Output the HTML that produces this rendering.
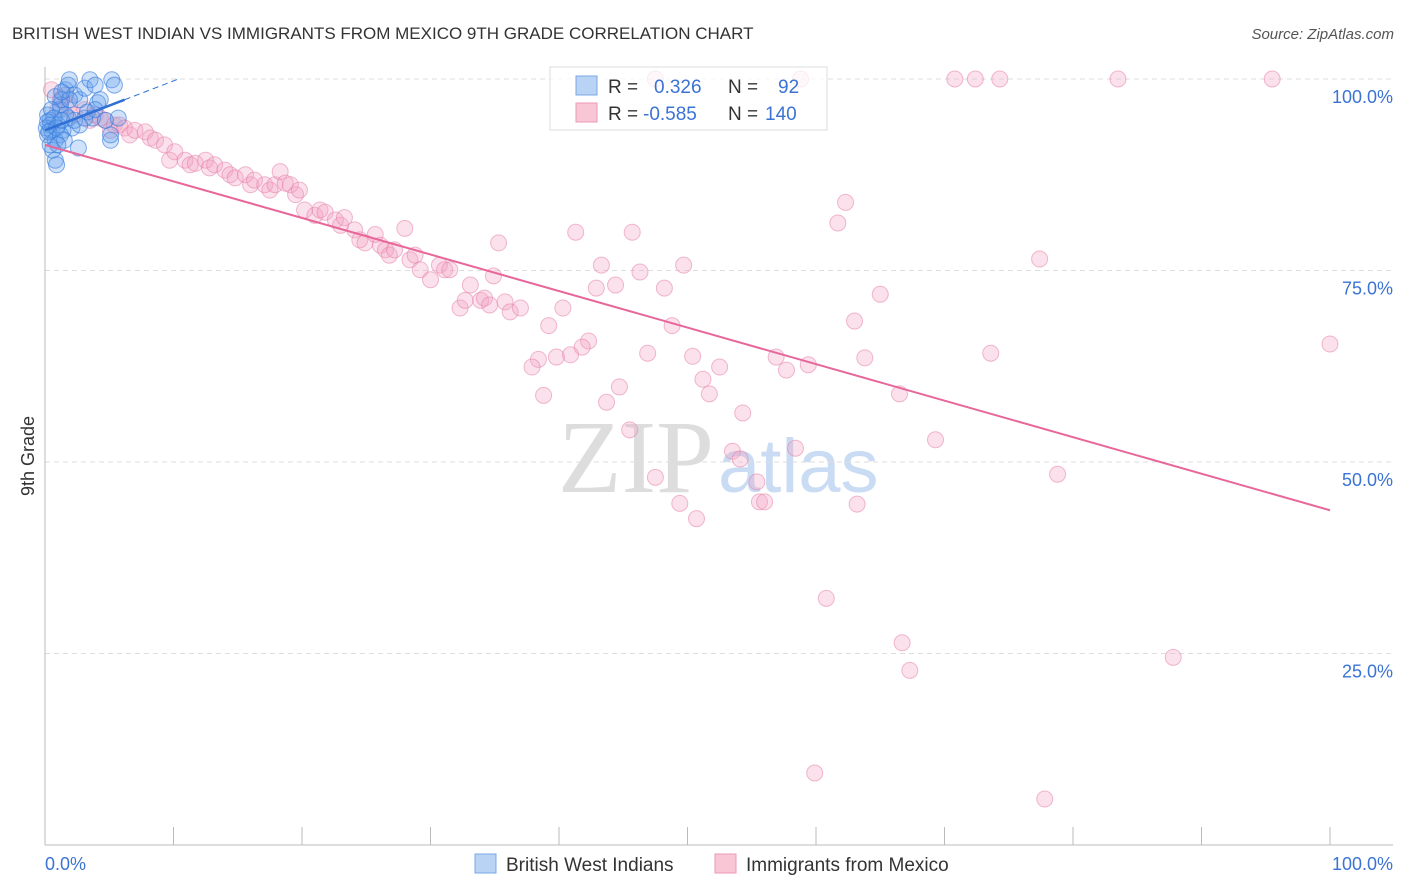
<!DOCTYPE html>
<html><head><meta charset="utf-8"><style>
body{margin:0;background:#fff;font-family:"Liberation Sans",sans-serif;}
svg{display:block}
</style></head><body>
<svg id="chart" width="1406" height="892">
<text x="12" y="39" font-size="17" fill="#333">BRITISH WEST INDIAN VS IMMIGRANTS FROM MEXICO 9TH GRADE CORRELATION CHART</text>
<text x="1394" y="39" font-size="15" fill="#555" font-style="italic" text-anchor="end">Source: ZipAtlas.com</text>
<text x="714" y="492" font-size="104" fill="#ddd" text-anchor="end" font-family="Liberation Serif,serif">ZIP</text>
<text x="718" y="492" font-size="76" fill="#c9dcf3">atlas</text>
<text x="34" y="456" font-size="18" fill="#333" text-anchor="middle" transform="rotate(-90 34 456)">9th Grade</text>
<g id="grid"></g><g id="pts"></g><g id="lines"></g>
<g>
<rect x="550" y="67" width="277" height="63" fill="rgba(255,255,255,0.75)" stroke="#ddd"/>
<rect x="576" y="76" width="21" height="19" fill="#b9d3f5" stroke="#7aa7e6"/>
<rect x="576" y="103" width="21" height="19" fill="#f9c6d6" stroke="#ec9ab5"/>
<text x="608" y="93" font-size="19" fill="#333">R = <tspan x="654" fill="#3b73d4">0.326</tspan><tspan x="728" fill="#333">N =</tspan><tspan x="778" fill="#3b73d4">92</tspan></text>
<text x="608" y="120" font-size="19" fill="#333">R = <tspan x="643" fill="#3b73d4">-0.585</tspan><tspan x="728" fill="#333">N =</tspan><tspan x="765" fill="#3b73d4">140</tspan></text>
</g>
<g>
<rect x="475" y="854" width="21" height="19" fill="#b9d3f5" stroke="#7aa7e6"/>
<text x="506" y="871" font-size="19" fill="#333">British West Indians</text>
<rect x="715" y="854" width="21" height="19" fill="#f9c6d6" stroke="#ec9ab5"/>
<text x="746" y="871" font-size="19" fill="#333">Immigrants from Mexico</text>
</g>
<text x="45" y="870" font-size="18" fill="#3b73d4">0.0%</text>
<text x="1393" y="870" font-size="18" fill="#3b73d4" text-anchor="end">100.0%</text>
</svg>
<script>
const yTicks=[100,75,50,25];
const yTickLabels=["100.0%","75.0%","50.0%","25.0%"];
const pinkX=[47.5,58.8,70.8,72.4,74.3,83.5,95.5,62.3,61.7,41.3,45.7,35.3,77.4,43.3,49.7,46.3,34.9,65.0,42.9,44.4,48.2,63.0,39.2,48.8,40.3,42.3,41.8,100,46.9,50.4,39.8,38.4,40.9,37.9,56.9,57.7,59.4,63.8,73.6,51.2,44.7,52.5,51.7,66.5,38.8,43.7,54.3,45.5,69.3,58.4,53.5,54.1,47.5,78.8,55.4,49.4,55.6,56.0,63.2,50.7,60.8,66.7,67.3,87.8,59.9,77.8,
0.5,1.2,1.0,1.6,1.9,2.3,3.1,3.5,3.9,4.3,4.7,5.1,5.4,5.8,6.2,6.6,7.0,7.8,8.2,8.6,9.3,9.7,10.1,10.9,11.3,11.7,12.5,12.8,13.2,14.0,14.4,14.8,15.6,16.0,16.3,17.1,17.5,17.9,18.3,18.7,19.1,19.5,19.8,20.2,21.0,21.4,21.8,22.6,23.0,23.3,24.1,24.5,24.9,25.7,26.1,26.5,26.8,27.2,28.0,28.4,28.8,29.2,30.0,30.7,31.1,31.5,32.3,32.7,33.1,33.9,34.2,34.6,35.8,36.2,37.0];
const pinkY=[100,100,100,100,100,100,100,83.9,81.2,80.0,80.0,78.6,76.5,75.7,75.7,74.8,74.3,71.9,72.7,73.1,72.7,68.4,67.8,67.8,70.1,65.8,65.0,65.4,64.2,63.8,63.7,63.4,64.0,62.4,63.7,62.0,62.7,63.6,64.2,60.8,59.8,62.4,58.9,58.9,58.7,57.8,56.4,54.2,52.9,51.8,51.4,50.4,48.0,48.4,47.4,44.6,44.8,44.8,44.5,42.6,32.2,26.4,22.8,24.5,9.4,6.0,
98.6,97.3,96.0,97.9,96.6,95.3,96.0,94.6,95.3,94.9,94.6,93.3,94.0,94.0,93.6,92.7,93.3,93.1,92.3,92.0,91.4,89.4,90.5,89.4,88.8,89.0,89.4,88.4,88.8,88.1,87.5,87.1,87.5,86.2,86.8,86.2,85.5,86.2,87.9,86.4,86.2,84.9,85.5,82.9,82.2,82.9,82.6,81.6,80.9,81.9,80.3,79.0,78.6,79.7,78.3,77.7,77.0,77.7,80.5,76.4,77.0,75.1,73.8,75.7,75.1,75.1,70.1,71.1,73.1,71.1,71.4,70.5,70.9,69.6,70.1];
const blueX=[0.4,0.5,0.8,0.6,0.8,0.9,0.2,0.4,1.2,1.3,1.6,1.8,1.9,2.3,2.7,3.1,3.5,3.9,4.1,4.3,5.2,5.4,5.1,5.1,2.6,2.1,1.8,1.2,0.8,1.0,1.4,1.6,2.3,2.7,3.1,3.3,3.7,1.9,0.2,0.4,0.5,0.7,0.1,0.2,0.3,0.9,1.2,1.3,1.5,1.0,3.9,4.7,5.7,1.3];
const blueY=[94.6,93.3,92.0,90.7,89.4,88.8,95.3,94.0,96.0,97.3,98.6,99.2,99.9,97.9,97.3,98.8,99.9,99.2,96.9,97.3,99.9,99.2,92.0,92.7,91.0,93.6,94.9,96.6,97.7,94.0,93.3,95.3,94.6,94.0,94.9,95.7,94.9,97.3,92.7,91.4,96.0,94.9,93.6,94.4,93.1,93.6,92.7,94.6,92.0,91.4,96.0,94.6,94.9,98.3];
const pinkTrend=[91.4,43.7];   // y at x=0, x=100
const blueTrend=[93.3,0.645]; // intercept, slope
const NS="http://www.w3.org/2000/svg";
const X=v=>45+v*12.85, Y=v=>845-v*7.66;
function mk(tag,attrs,parent){const e=document.createElementNS(NS,tag);for(const k in attrs)e.setAttribute(k,attrs[k]);parent.appendChild(e);return e;}
const grid=document.getElementById('grid');
yTicks.forEach((t,i)=>{
 const l=mk('line',{x1:45,x2:1393,y1:Y(t),y2:Y(t),stroke:'#ddd','stroke-dasharray':'5,4'},grid);
 
 
 const tx=mk('text',{x:1393,y:Y(t)+24,'font-size':18,fill:'#3b73d4','text-anchor':'end'},grid);
 tx.textContent=yTickLabels[i];
 
 
});
const ax=mk('line',{x1:45,x2:45,y1:67,y2:845,stroke:'#bbb'},grid);


const bx=mk('line',{x1:45,x2:1393,y1:845,y2:845,stroke:'#bbb'},grid);


for(let k=1;k<=10;k++){
 const t=mk('line',{x1:X(k*10),x2:X(k*10),y1:827,y2:845,stroke:'#bbb'},grid);
 
 
}
const pts=document.getElementById('pts');
pinkX.forEach((x,i)=>{
 const c=mk('circle',{cx:X(x),cy:Y(pinkY[i]),r:8,fill:'rgba(244,165,195,0.33)',stroke:'rgba(230,130,170,0.55)','stroke-width':1},pts);
 
 
});
blueX.forEach((x,i)=>{
 const c=mk('circle',{cx:X(x),cy:Y(blueY[i]),r:8,fill:'rgba(100,160,235,0.3)',stroke:'rgba(50,120,220,0.6)','stroke-width':1},pts);
 
 
});
const lines=document.getElementById('lines');
const pl=mk('line',{x1:X(0),y1:Y(pinkTrend[0]),x2:X(100),y2:Y(pinkTrend[1]),stroke:'#e8679a','stroke-width':2},lines);


const bl=mk('line',{x1:X(0),y1:Y(blueTrend[0]),x2:X(6.2),y2:Y(blueTrend[0]+blueTrend[1]*6.2),stroke:'#2f6fd6','stroke-width':2.5},lines);


const bd=mk('line',{x1:X(6.2),y1:Y(blueTrend[0]+blueTrend[1]*6.2),x2:X(10.5),y2:Y(blueTrend[0]+blueTrend[1]*10.5),stroke:'#2f6fd6','stroke-width':1,'stroke-dasharray':'6,4'},lines);


</script>
</body></html>
